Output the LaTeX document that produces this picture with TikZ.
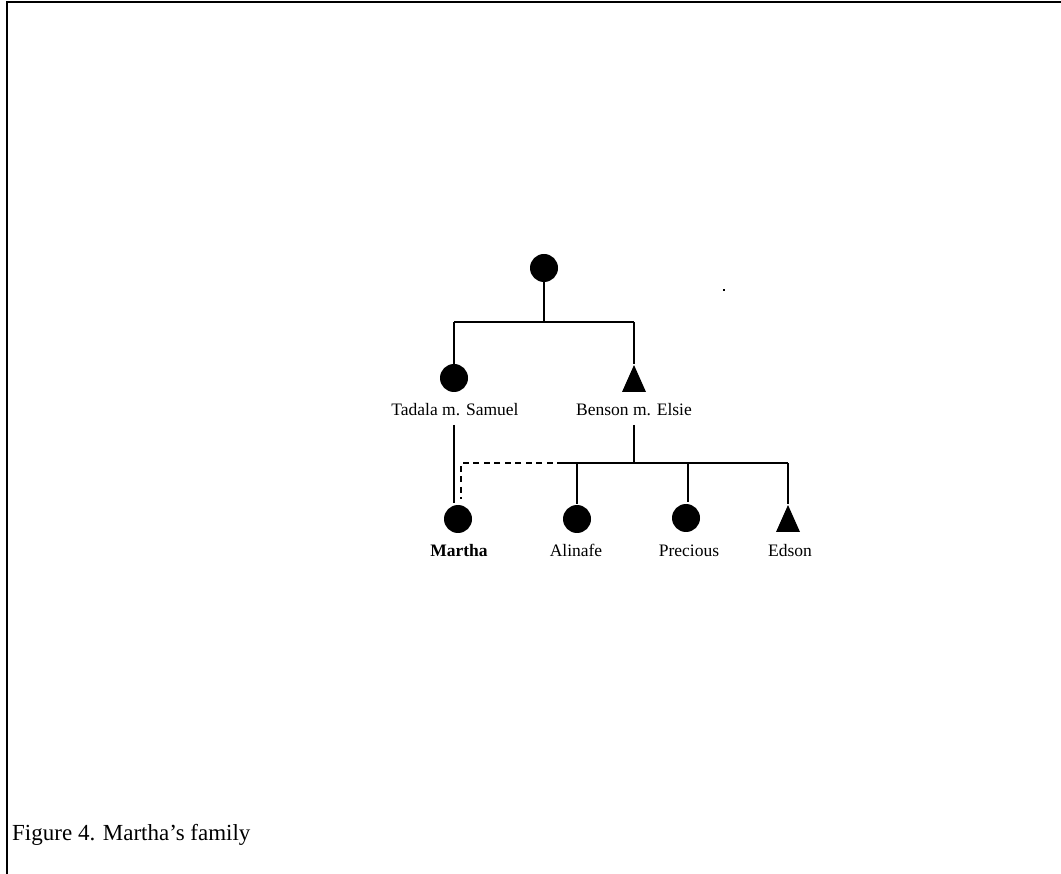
\documentclass[tikz,border=0pt]{standalone}
\usepackage{fontspec}
\setmainfont{Liberation Serif}
\begin{document}
\begin{tikzpicture}[x=1pt,y=-1pt,
  line/.style={line width=2.2pt},
  dline/.style={line width=2.2pt,dash pattern=on 6pt off 4.5pt},
  fem/.style={circle,fill=black,minimum size=28pt,inner sep=0pt},
  lab/.style={font=\fontsize{17.5}{20}\selectfont,inner sep=0pt,anchor=base}]
\useasboundingbox (0,0) rectangle (1061,874);
% frame
\draw[line width=1.8pt] (7,874) -- (7,1.8) -- (1061,1.8);
% nodes
\node[fem] (top) at (544,268) {};
\node[fem] (tad) at (454,378) {};
\coordinate (ben) at (634,378.5);
\fill ([shift={(-12,13.5)}]ben) -- ([shift={(0,-13.5)}]ben) -- ([shift={(12,13.5)}]ben) -- cycle;
\node[lab] (tadl) at (455,416) {Tadala m. Samuel};
\node[lab] (benl) at (634,416) {Benson m. Elsie};
\node[fem] (mar) at (458,519) {};
\node[fem] (ali) at (577,519) {};
\node[fem] (pre) at (686,518) {};
\coordinate (eds) at (788,518.5);
\fill ([shift={(-12,13.5)}]eds) -- ([shift={(0,-13.5)}]eds) -- ([shift={(12,13.5)}]eds) -- cycle;
\node[lab,font=\fontsize{17.5}{20}\selectfont\bfseries] (marl) at (459,557) {Martha};
\node[lab] (alil) at (576,557) {Alinafe};
\node[lab] (prel) at (689,557) {Precious};
\node[lab] (edsl) at (790,557) {Edson};
% coordinates
\coordinate (j1) at (544,322);
\coordinate (j2) at (634,463);
\coordinate (dl) at (461,463);
\coordinate (ds) at (563,463);
% connectors
\draw[line] (top) -- (j1);
\draw[line] (454,322) -- (j1) -- (634,322);
\draw[line] (454,322) -- (454,364);
\draw[line] (634,322) -- (634,364);
\draw[line] (454,425) -- (454,503);
\draw[line] (634,425) -- (j2);
\draw[line] (ds) -- (788,463);
\draw[line] (577,463) -- (577,504);
\draw[line] (688,463) -- (688,502);
\draw[line] (788,463) -- (788,504);
\draw[dline] (ds) -- (dl) -- (461,499);
% stray dot
\fill (723,289.5) rectangle (724.5,291);
% caption
\node[anchor=west,inner sep=0pt,font=\fontsize{23}{26}\selectfont] (cap) at (12,835) {Figure 4. Martha’s family};
\end{tikzpicture}
\end{document}
